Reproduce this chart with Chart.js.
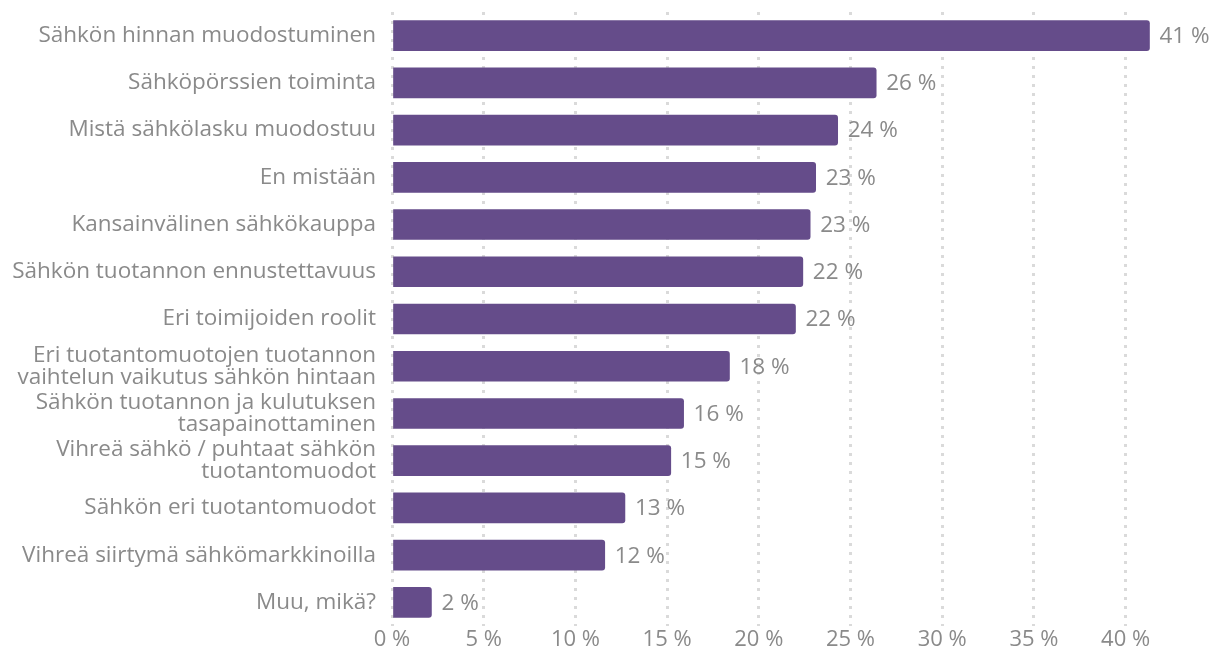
<!DOCTYPE html>
<html>
<head>
<meta charset="utf-8">
<script src="https://cdn.jsdelivr.net/npm/chart.js@4"></script>
<style>
html,body{margin:0;padding:0;background:#fff;}
#wrap{width:1214px;height:652px;}
</style>
</head>
<body>
<div id="wrap"><canvas id="c" width="1214" height="652"></canvas></div>
<script>
const categories = [
  "Sähkön hinnan muodostuminen",
  "Sähköpörssien toiminta",
  "Mistä sähkölasku muodostuu",
  "En mistään",
  "Kansainvälinen sähkökauppa",
  "Sähkön tuotannon ennustettavuus",
  "Eri toimijoiden roolit",
  ["Eri tuotantomuotojen tuotannon", "vaihtelun vaikutus sähkön hintaan"],
  ["Sähkön tuotannon ja kulutuksen", "tasapainottaminen"],
  ["Vihreä sähkö / puhtaat sähkön", "tuotantomuodot"],
  "Sähkön eri tuotantomuodot",
  "Vihreä siirtymä sähkömarkkinoilla",
  "Muu, mikä?"
];
const values = [41.3, 26.4, 24.3, 23.1, 22.8, 22.4, 22.0, 18.4, 15.9, 15.2, 12.7, 11.6, 2.15];
const tickValues = [0, 5, 10, 15, 20, 25, 30, 35, 40];

const FONT = "'Open Sans', sans-serif";
const TEXT = "#8a8a8a";

const valueLabels = {
  id: 'valueLabels',
  afterDatasetsDraw(chart) {
    const ctx = chart.ctx;
    const meta = chart.getDatasetMeta(0);
    ctx.save();
    ctx.font = "22.5px " + FONT;
    ctx.fillStyle = TEXT;
    ctx.textAlign = 'left';
    ctx.textBaseline = 'middle';
    meta.data.forEach((bar, i) => {
      ctx.fillText(Math.round(values[i]) + " %", bar.x + 10, bar.y + 1);
    });
    ctx.restore();
  }
};

new Chart(document.getElementById('c'), {
  type: 'bar',
  data: {
    labels: categories,
    datasets: [{
      data: values,
      backgroundColor: '#654c8a',
      borderRadius: {topRight: 3, bottomRight: 3, topLeft: 0, bottomLeft: 0},
      borderSkipped: 'start',
      barThickness: 30
    }]
  },
  options: {
    indexAxis: 'y',
    responsive: false,
    animation: false,
    layout: {padding: {top: 12, right: 15, left: 0, bottom: 0}},
    plugins: {legend: {display: false}, tooltip: {enabled: false}},
    scales: {
      x: {
        min: 0,
        max: 44,
        afterBuildTicks(scale) { scale.ticks = tickValues.map(v => ({value: v})); },
        afterFit(scale) { scale.height = 26; },
        border: {display: false, dash: [3, 6]},
        grid: {color: '#dadada', lineWidth: 3, drawTicks: false},
        ticks: {
          padding: 1,
          color: TEXT,
          font: {family: FONT, size: 22},
          callback: v => v + " %"
        }
      },
      y: {
        afterFit(scale) { scale.width = 392; scale.paddingTop = 0; scale.paddingBottom = 0; },
        border: {display: false},
        grid: {display: false, drawTicks: false},
        ticks: {
          padding: 16,
          color: TEXT,
          font: {family: FONT, size: 22.5, lineHeight: 0.98}
        }
      }
    }
  },
  plugins: [valueLabels]
});
</script>
</body>
</html>
